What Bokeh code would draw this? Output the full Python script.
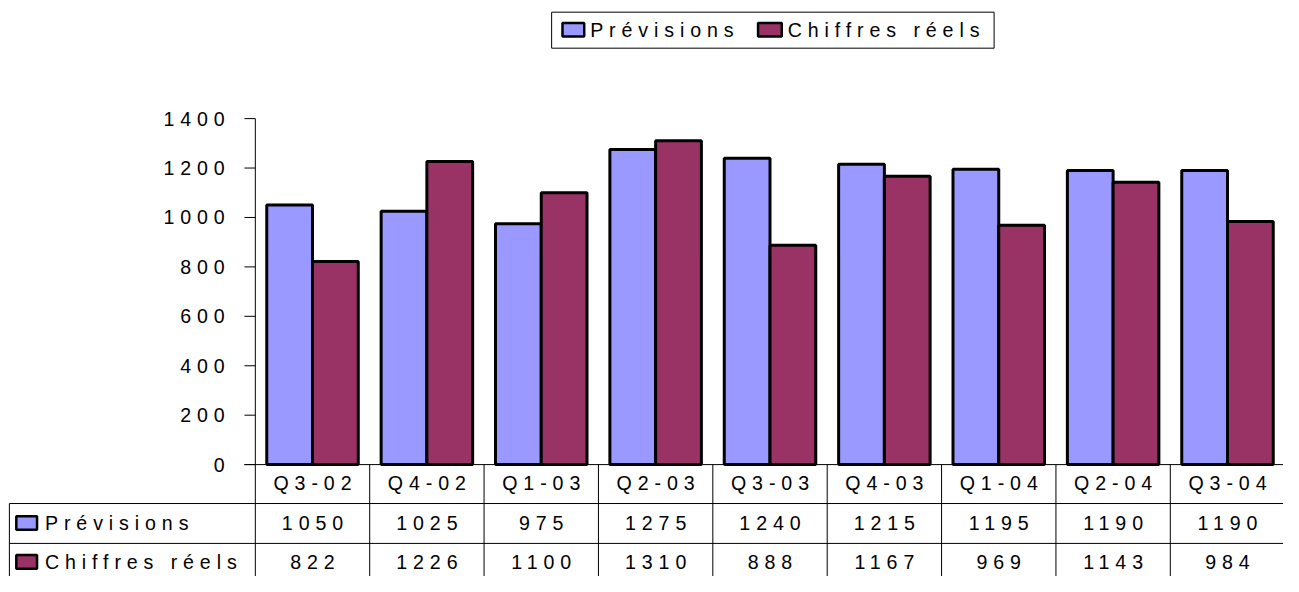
from bokeh.plotting import figure
from bokeh.models import ColumnDataSource, Range1d, InlineStyleSheet
from bokeh.core.properties import value
from bokeh.embed import file_html
from bokeh.resources import INLINE

# ---------------- data ----------------
categories = ["Q3-02", "Q4-02", "Q1-03", "Q2-03", "Q3-03", "Q4-03", "Q1-04", "Q2-04", "Q3-04"]
previsions = [1050, 1025, 975, 1275, 1240, 1215, 1195, 1190, 1190]
chiffres_reels = [822, 1226, 1100, 1310, 888, 1167, 969, 1143, 984]
series_names = ["Prévisions", "Chiffres réels"]
y_ticks = [0, 200, 400, 600, 800, 1000, 1200, 1400]

# ---------------- style ----------------
COLORS = ["#9999FF", "#993366"]
FONT = value("Liberation Sans")
FS = value("19.6px")
LS = 5.9  # letter spacing (px)

# layout helpers: reference-pixel -> data (layout only)
X0, XU = 258.0, 115.8     # x of axis, px per category
Y0, YU = 477.0, 0.254     # y of zero, px per unit
def X(px): return (px - X0) / XU
def Y(px): return (Y0 - px) / YU
def DY(px): return px / YU

W, H = 1283, 576
REF_W, REF_H = 1299, 592
p = figure(width=W, height=H, output_backend="svg", toolbar_location=None,
           x_range=Range1d(X(0), X(REF_W)), y_range=Range1d(Y(REF_H), Y(0)),
           x_axis_type=None, y_axis_type=None, min_border=0)
p.outline_line_color = None
p.grid.visible = False
p.background_fill_color = "white"
p.border_fill_color = "white"
p.stylesheets = [InlineStyleSheet(css=":host { letter-spacing: %.1fpx; }" % LS)]

n = len(categories)
idx = list(range(n))
bottom_px = 610

# ---------------- bars ----------------
bw = 0.4
src = ColumnDataSource(dict(
    xp=[i + 0.1 + bw / 2 for i in idx], xr=[i + 0.5 + bw / 2 for i in idx],
    prev=previsions, reel=chiffres_reels))
p.vbar(x="xp", top="prev", bottom=0, width=bw, source=src,
       fill_color=COLORS[0], line_color="black", line_width=3)
p.vbar(x="xr", top="reel", bottom=0, width=bw, source=src,
       fill_color=COLORS[1], line_color="black", line_width=3)

# ---------------- y axis ----------------
p.segment(x0=[0], y0=[0], x1=[0], y1=[max(y_ticks)], line_color="black", line_width=1)
p.segment(x0=[X(247)] * len(y_ticks), y0=y_ticks, x1=[0] * len(y_ticks), y1=y_ticks,
          line_color="black", line_width=1)
tick_txt = [str(t) for t in y_ticks]
p.text(x=[X(227)] * len(y_ticks), y=y_ticks, text=tick_txt,
       x_offset=[-(len(s) - 1) * LS for s in tick_txt],
       text_align="right", text_baseline="middle", text_font=FONT,
       text_font_size=FS, text_color="black")

# ---------------- data table ----------------
p.segment(x0=[X(247)], y0=[0], x1=[n + 0.5], y1=[0], line_color="black", line_width=1)
p.segment(x0=[X(9), X(9)], y0=[Y(517), Y(558)], x1=[n + 0.5, n + 0.5], y1=[Y(517), Y(558)],
          line_color="black", line_width=1)
p.segment(x0=idx + [n], y0=[0] * (n + 1), x1=idx + [n], y1=[Y(bottom_px)] * (n + 1),
          line_color="black", line_width=1)
p.segment(x0=[X(9)], y0=[Y(517)], x1=[X(9)], y1=[Y(bottom_px)], line_color="black", line_width=1)

# category labels
p.text(x=[i + 0.5 for i in idx], y=[Y(496)] * n, text=categories,
       x_offset=[-(len(s) - 1) * LS / 2 for s in categories],
       text_align="center", text_baseline="middle", text_font=FONT,
       text_font_size=FS, text_color="black")

row_y = [Y(537), Y(577)]
for r, vals in enumerate([previsions, chiffres_reels]):
    txt = [str(v) for v in vals]
    p.text(x=[i + 0.5 for i in idx], y=[row_y[r]] * n, text=txt,
           x_offset=[-(len(s) - 1) * LS / 2 for s in txt],
           text_align="center", text_baseline="middle", text_font=FONT,
           text_font_size=FS, text_color="black")
    p.quad(left=[X(16)], right=[X(37)], top=[row_y[r] + DY(7)], bottom=[row_y[r] - DY(7)],
           fill_color=COLORS[r], line_color="black", line_width=2.5)
    p.text(x=[X(45)], y=[row_y[r]], text=[series_names[r]], text_align="left",
           text_baseline="middle", text_font=FONT, text_font_size=FS, text_color="black")

# ---------------- top legend ----------------
p.quad(left=[X(558)], right=[X(1006)], top=[Y(12)], bottom=[Y(49)],
       fill_color="white", line_color="black", line_width=1)
leg_y = Y(30)
key_x = [(569, 591, 597), (767, 791, 797)]
for r, (kl, kr, tx) in enumerate(key_x):
    p.quad(left=[X(kl)], right=[X(kr)], top=[leg_y + DY(7)], bottom=[leg_y - DY(7)],
           fill_color=COLORS[r], line_color="black", line_width=2.5)
    p.text(x=[X(tx)], y=[leg_y], text=[series_names[r]], text_align="left",
           text_baseline="middle", text_font=FONT, text_font_size=FS, text_color="black")

open("out.html", "w").write(file_html(p, INLINE))
